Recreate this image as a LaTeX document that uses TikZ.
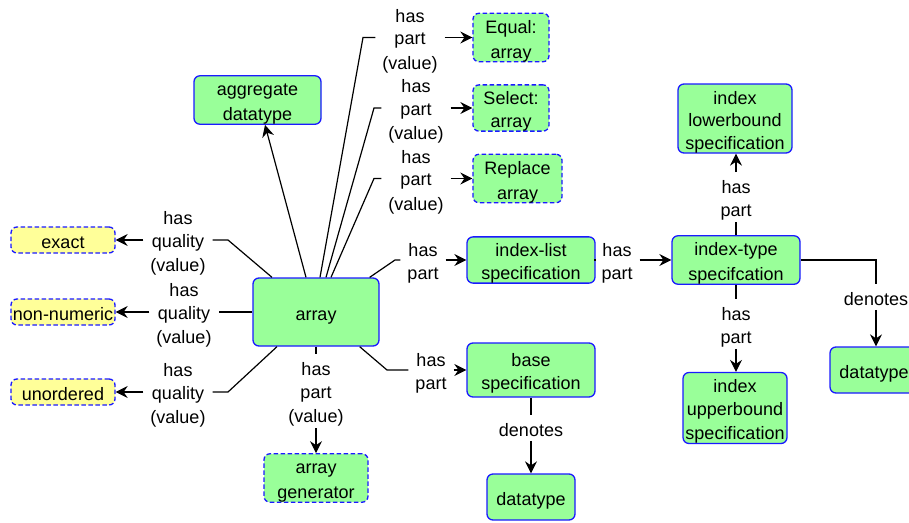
\documentclass[tikz,border=0pt]{standalone}
\usepackage{fontspec}
\setmainfont{Liberation Sans}
\usetikzlibrary{arrows.meta}
\definecolor{boxgreen}{HTML}{99FF99}
\definecolor{boxyellow}{HTML}{FFFF99}
\definecolor{boxblue}{HTML}{1A1AFF}
% fixed line box: every text line takes 22.5pt
\newcommand\linebox{\vrule width 0pt height 20pt depth 2.5pt}
\newcommand\nl{\linebox\\\linebox}
\tikzset{
  txt/.style={font=\fontsize{18}{22.5}\selectfont, align=center,
    execute at begin node=\linebox, execute at end node=\linebox},
  concept/.style={txt, draw=boxblue, line width=1.3pt, fill=boxgreen,
    rounded corners=6pt, inner sep=0pt},
  optional/.style={concept, dash pattern=on 4.5pt off 2.5pt},
  quality/.style={optional, fill=boxyellow},
  rel/.style={txt, inner xsep=7pt, inner ysep=1.5pt},
  link/.style={line width=1.2pt, draw=black},
  arrowlink/.style={link, -{Stealth[length=12pt,width=12pt,inset=4pt]}},
}
\begin{document}
\begin{tikzpicture}[x=1pt,y=-1pt]
\useasboundingbox (0,0) rectangle (909,522);

% concepts
\node[concept, minimum width=126pt, minimum height=68pt] (array) at (316,312) {array};
\node[concept, minimum width=127pt, minimum height=46pt] (aggr) at (257.5,100) {aggregate\nl datatype};
\node[optional, minimum width=76pt, minimum height=47pt] (eq) at (511,37.5) {Equal:\nl array};
\node[optional, minimum width=76pt, minimum height=46pt] (sel) at (511,108) {Select:\nl array};
\node[optional, minimum width=89pt, minimum height=47pt] (rep) at (517.5,178.5) {Replace\nl array};
\node[quality, minimum width=104pt, minimum height=26pt] (exact) at (63,240) {exact};
\node[quality, minimum width=104pt, minimum height=26pt] (nonnum) at (63,312) {non-numeric};
\node[quality, minimum width=104pt, minimum height=26pt] (unord) at (63,392) {unordered};
\node[optional, minimum width=104pt, minimum height=46pt] (gen) at (316,478) {array\nl generator};
\node[concept, minimum width=128pt, minimum height=46pt] (list) at (531,260) {index-list\nl specification};
\node[concept, minimum width=128pt, minimum height=54pt] (base) at (531,370) {base\nl specification};
\node[concept, minimum width=88pt, minimum height=46pt] (dtA) at (531,497) {datatype};
\node[concept, minimum width=128pt, minimum height=46pt] (itype) at (736,260) {index-type\nl specifcation};
\node[concept, minimum width=114pt, minimum height=69pt] (lower) at (735,118.5) {index\nl lowerbound\nl specification};
\node[concept, minimum width=104pt, minimum height=68pt] (upper) at (735,408) {index\nl upperbound\nl specification};
\node[concept, minimum width=88pt, minimum height=46pt] (dtB) at (874,370) {datatype};

% relation labels
\node[rel] (lEq) at (410,37.5) {has\nl part\nl (value)};
\node[rel] (lSel) at (416,108) {has\nl part\nl (value)};
\node[rel] (lRep) at (416,178.5) {has\nl part\nl (value)};
\node[rel] (lExact) at (178,240) {has\nl quality\nl (value)};
\node[rel] (lNon) at (184,312) {has\nl quality\nl (value)};
\node[rel] (lUn) at (178,392) {has\nl quality\nl (value)};
\node[rel] (lGen) at (316,391) {has\nl part\nl (value)};
\node[rel] (lList) at (423,260) {has\nl part};
\node[rel] (lBase) at (431,370) {has\nl part};
\node[rel] (lDenA) at (531,428) {denotes};
\node[rel] (lLT) at (617,260) {has\nl part};
\node[rel] (lLow) at (736,197) {has\nl part};
\node[rel] (lUp) at (736,324) {has\nl part};
\node[rel] (lDenB) at (876,297) {denotes};

% bends
\coordinate (bEq) at (363,37.5);
\coordinate (bSel) at (374,108);
\coordinate (bRep) at (374,178.5);
\coordinate (bExact) at (228,240);
\coordinate (bUn) at (228,392);
\coordinate (bList) at (395,260);
\coordinate (bBase) at (387,370);

% array relations
\draw[arrowlink] ([xshift=-10pt]array.north) -- ([xshift=7.5pt]aggr.south);

\draw[link] ([xshift=4pt]array.north) -- (bEq) -- (lEq.west);
\draw[arrowlink] (lEq.east) -- (lEq.east -| eq.west);
\draw[link] ([xshift=10pt]array.north) -- (bSel) -- (lSel.west);
\draw[arrowlink] (lSel.east) -- (lSel.east -| sel.west);
\draw[link] ([xshift=15pt]array.north) -- (bRep) -- (lRep.west);
\draw[arrowlink] (lRep.east) -- (lRep.east -| rep.west);

\draw[link] ([xshift=-44pt]array.north) -- (bExact) -- (lExact.east);
\draw[arrowlink] (lExact.west) -- (lExact.west -| exact.east);
\draw[link] (array.west) -- (lNon.east);
\draw[arrowlink] (lNon.west) -- (lNon.west -| nonnum.east);
\draw[link] ([xshift=-39pt]array.south) -- (bUn) -- (lUn.east);
\draw[arrowlink] (lUn.west) -- (lUn.west -| unord.east);

\draw[link] (array.south) -- (lGen.north);
\draw[arrowlink] (lGen.south) -- (gen.north);

\draw[link] ([xshift=-10pt]array.north east) -- (bList) -- (lList.west);
\draw[arrowlink] (lList.east) -- (lList.east -| list.west);
\draw[link] ([xshift=-20pt]array.south east) -- (bBase) -- (lBase.west);
\draw[arrowlink] (lBase.east) -- (lBase.east -| base.west);

% specification relations
\draw[link] (base.south) -- (lDenA.north);
\draw[arrowlink] (lDenA.south) -- (dtA.north);
\draw[link] (list.east) -- (lLT.west);
\draw[arrowlink] (lLT.east) -- (lLT.east -| itype.west);
\draw[link] (itype.north) -- (lLow.south);
\draw[arrowlink] (lLow.north) -- (lLow.north |- lower.south);
\draw[link] (itype.south) -- (lUp.north);
\draw[arrowlink] (lUp.south) -- (lUp.south |- upper.north);
\draw[link] (itype.east) -| (lDenB.north);
\draw[arrowlink] (lDenB.south) -- (lDenB.south |- dtB.north);
\end{tikzpicture}
\end{document}
